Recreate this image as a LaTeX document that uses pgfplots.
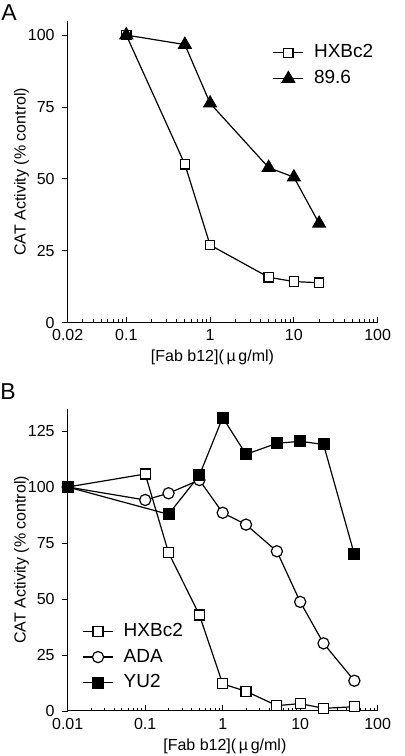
\documentclass[border=0pt]{standalone}
\usepackage{fontspec}
\setmainfont{Liberation Sans}
\usepackage{pgfplots}
\pgfplotsset{compat=1.18}
\pgfplotsset{
  mypanelstyle/.style={
    scale only axis, width=155pt, clip=false,
    axis x line*=bottom, axis y line*=left,
    axis line style={-, line width=0.5pt},
    xtick align=inside, ytick align=outside,
    major tick length=3pt, minor tick length=1.6pt,
    every tick/.style={black, line width=0.4pt},
    tick label style={font=\fontsize{8}{9}\selectfont},
    label style={font=\fontsize{8}{9.5}\selectfont},
    ylabel={CAT Activity (\% control)},
    xlabel={[Fab b12](\,µ\,g/ml)},
    ylabel style={at={(axis description cs:-0.149,0.5)}, anchor=center},
    legend cell align=left,
    legend style={draw=none, fill=none, inner sep=0pt, row sep=0.8pt, column sep=3pt,
      font=\fontsize{9.5}{11}\selectfont, anchor=north west},
    legend image code/.code={\draw[mark repeat=2,mark phase=2] plot coordinates {(0cm,0cm)(0.265cm,0cm)(0.53cm,0cm)};},
    every axis plot/.append style={black, line width=0.6pt},
  }
}
\begin{document}
\begin{tikzpicture}[x=1pt,y=1pt]
\useasboundingbox (0,0) rectangle (202,378);
\node[anchor=base west, font=\fontsize{11.5}{12}\selectfont, inner sep=0pt] at (0.5,367.5) {A};
\node[anchor=base west, font=\fontsize{11.5}{12}\selectfont, inner sep=0pt] at (0,178) {B};

\begin{semilogxaxis}[mypanelstyle, at={(33.85pt,216.65pt)}, anchor=south west,
  height=151pt, xmin=0.02, xmax=100, ymin=0, ymax=105,
  xtick={0.02,0.1,1,10,100}, xticklabels={0.02,0.1,1,10,100},
  minor xtick={0.03,0.04,0.05,0.06,0.07,0.08,0.09,0.2,0.3,0.4,0.5,0.6,0.7,0.8,0.9,2,3,4,5,6,7,8,9,20,30,40,50,60,70,80,90},
  ytick={0,25,50,75,100}, yticklabels={0,25,50,75,100},
  xlabel style={at={(axis description cs:0.467,-0.1135)}, anchor=center},
  legend style={at={(axis description cs:0.66,0.935)}},
]
\addplot[mark=square*, mark options={fill=white, solid}, mark size=2.35pt] coordinates {
 (0.1,100) (0.5,55.1) (1,27.0) (5,15.8) (10,14.3) (20,13.9)};
\addlegendentry{HXBc2}
\addplot[mark=triangle*, mark options={fill=black, solid}, mark size=3.6pt] coordinates {
 (0.1,100) (0.5,96.7) (1,76.3) (5,53.9) (10,50.6) (20,34.5)};
\addlegendentry{89.6}
\end{semilogxaxis}

\begin{semilogxaxis}[mypanelstyle, at={(33.85pt,22.5pt)}, anchor=south west,
  height=151.2pt, xmin=0.01, xmax=100, ymin=0, ymax=135,
  xtick={0.01,0.1,1,10,100}, xticklabels={0.01,0.1,1,10,100},
  minor xtick={0.02,0.03,0.04,0.05,0.06,0.07,0.08,0.09,0.2,0.3,0.4,0.5,0.6,0.7,0.8,0.9,2,3,4,5,6,7,8,9,20,30,40,50,60,70,80,90},
  ytick={0,25,50,75,100,125}, yticklabels={0,25,50,75,100,125},
  xlabel style={at={(axis description cs:0.507,-0.118)}, anchor=center},
  legend style={at={(axis description cs:0.046,0.305)}},
]
\addplot[mark=square*, mark options={fill=white, solid}, mark size=2.5pt] coordinates {
 (0.01,100) (0.1,105.8) (0.2,70.7) (0.5,42.9) (1,12.1) (2,8.8) (5,2.4) (10,3.3) (20,1.2) (50,1.9)};
\addlegendentry{HXBc2}
\addplot[mark=*, mark options={fill=white, solid}, mark size=2.8pt] coordinates {
 (0.01,100) (0.1,94.2) (0.2,97.2) (0.5,103.1) (1,88.5) (2,83.2) (5,71.3) (10,48.7) (20,30.2) (50,13.5)};
\addlegendentry{ADA}
\addplot[mark=square*, mark options={fill=black, solid}, mark size=2.7pt] coordinates {
 (0.01,100) (0.2,87.8) (0.5,105.2) (1,131) (2,114.6) (5,119.5) (10,120.4) (20,119) (50,69.9)};
\addlegendentry{YU2}
\end{semilogxaxis}
\end{tikzpicture}
\end{document}
